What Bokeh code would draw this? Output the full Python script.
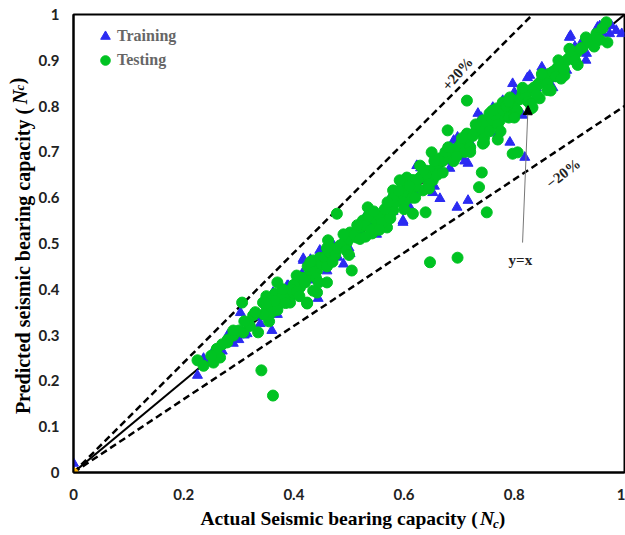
from bokeh.plotting import figure
from bokeh.models import (Label, Arrow, NormalHead, Legend, LegendItem,
                          FixedTicker, Range1d, LinearAxis)
from bokeh.embed import file_html
from bokeh.resources import INLINE

# ---------------- data ----------------
train_actual = [
    0.000, 0.225, 0.236, 0.254, 0.266, 0.290, 0.315, 0.339, 0.360, 0.362,
    0.390, 0.415, 0.417, 0.442, 0.417, 0.502, 0.569, 0.598, 0.388, 0.444,
    0.447, 0.551, 0.734, 0.697, 0.716, 0.792, 0.665, 0.652, 0.696, 0.716,
    0.623, 0.683, 0.819, 0.598, 0.900, 0.951, 0.976, 0.995, 0.973, 0.924,
    0.931, 0.877, 0.828, 0.797, 0.895, 0.761, 0.779, 0.902, 0.824, 0.303,
    0.388, 0.300, 0.320, 0.340, 0.375, 0.400, 0.430, 0.460, 0.480, 0.500,
    0.520, 0.540, 0.560, 0.580, 0.600, 0.620, 0.640, 0.660, 0.680, 0.700,
    0.720, 0.740, 0.760, 0.780, 0.800, 0.820, 0.840, 0.860, 0.880, 0.900,
    0.920, 0.940, 0.960, 0.250, 0.270, 0.245,
    0.470, 0.490, 0.530, 0.550, 0.575, 0.610, 0.630, 0.655, 0.690, 0.710,
    0.740, 0.770, 0.800, 0.815, 0.850, 0.870, 0.910, 0.930, 0.955, 0.985,
    0.430, 0.460, 0.350, 0.370, 0.280, 0.310,
]
train_pred = [
    0.020, 0.212, 0.249, 0.266, 0.273, 0.282, 0.303, 0.325, 0.310, 0.393,
    0.408, 0.434, 0.463, 0.452, 0.467, 0.478, 0.587, 0.550, 0.408, 0.380,
    0.485, 0.565, 0.784, 0.732, 0.675, 0.721, 0.598, 0.611, 0.579, 0.594,
    0.670, 0.664, 0.688, 0.546, 0.950, 0.972, 0.976, 0.958, 0.958, 0.943,
    0.915, 0.860, 0.867, 0.849, 0.878, 0.797, 0.812, 0.954, 0.862, 0.349,
    0.391, 0.290, 0.330, 0.340, 0.370, 0.385, 0.420, 0.460, 0.470, 0.490,
    0.520, 0.540, 0.560, 0.570, 0.600, 0.610, 0.640, 0.670, 0.680, 0.690,
    0.720, 0.740, 0.760, 0.780, 0.795, 0.830, 0.840, 0.860, 0.870, 0.900,
    0.920, 0.935, 0.960, 0.250, 0.265, 0.240,
    0.500, 0.455, 0.560, 0.520, 0.600, 0.580, 0.665, 0.625, 0.725, 0.680,
    0.775, 0.740, 0.830, 0.780, 0.885, 0.840, 0.930, 0.900, 0.975, 0.965,
    0.465, 0.440, 0.375, 0.345, 0.300, 0.300,
]

test_actual = [
    0.225, 0.236, 0.254, 0.266, 0.279, 0.290, 0.306, 0.308, 0.317, 0.326,
    0.335, 0.344, 0.351, 0.357, 0.366, 0.370, 0.370, 0.393, 0.406, 0.411,
    0.424, 0.435, 0.442, 0.341, 0.362,
    0.478, 0.462, 0.471, 0.484, 0.496, 0.502, 0.505, 0.514, 0.525, 0.534,
    0.542, 0.551, 0.562, 0.569, 0.580, 0.592, 0.605, 0.611, 0.616, 0.435,
    0.447, 0.442, 0.424, 0.411, 0.399, 0.460, 0.435, 0.424, 0.393,
    0.714, 0.679, 0.629, 0.650, 0.665, 0.683, 0.701, 0.714, 0.732, 0.743,
    0.755, 0.768, 0.779, 0.792, 0.743, 0.770, 0.605, 0.592, 0.616, 0.641,
    0.580, 0.634, 0.652, 0.741, 0.736, 0.750, 0.639, 0.616, 0.697, 0.647,
    0.797, 0.806, 0.833, 0.866,
    0.967, 0.969, 0.949, 0.937, 0.924, 0.913, 0.900, 0.888, 0.877, 0.864,
    0.851, 0.841, 0.828, 0.815, 0.804, 0.864, 0.846, 0.891, 0.831, 0.792,
    0.774, 0.755,
    0.380, 0.400, 0.415, 0.430, 0.450, 0.455, 0.465, 0.475, 0.490, 0.500,
    0.510, 0.520, 0.530, 0.545, 0.555, 0.565, 0.575, 0.585, 0.595, 0.600,
    0.620, 0.630, 0.640, 0.655, 0.660, 0.670, 0.680, 0.690, 0.700, 0.705,
    0.715, 0.725, 0.730, 0.740, 0.750, 0.760, 0.765, 0.780, 0.785, 0.800,
    0.810, 0.820, 0.835, 0.845, 0.855, 0.870, 0.880, 0.895, 0.905, 0.920,
    0.935, 0.950, 0.360, 0.355, 0.345, 0.370, 0.365, 0.350, 0.320, 0.300,
    0.280, 0.260, 0.395, 0.405, 0.420, 0.440, 0.425, 0.460, 0.480, 0.495,
    0.520, 0.540, 0.535, 0.560, 0.580, 0.600, 0.615, 0.625, 0.645, 0.660,
    0.675, 0.690, 0.710, 0.720, 0.745, 0.755, 0.770, 0.790, 0.805, 0.825,
    0.840, 0.860, 0.875, 0.890, 0.910,
    0.460, 0.470, 0.490, 0.500, 0.515, 0.530, 0.545, 0.555, 0.570, 0.575,
    0.590, 0.600, 0.610, 0.620, 0.635, 0.645, 0.655, 0.670, 0.680, 0.695,
    0.705, 0.720, 0.730, 0.745, 0.760, 0.775, 0.790, 0.800, 0.815, 0.830,
    0.850, 0.860, 0.880, 0.885, 0.900, 0.915, 0.930, 0.945, 0.960, 0.955,
    0.380, 0.385, 0.405, 0.410, 0.430, 0.445, 0.350, 0.330, 0.310, 0.290,
    0.270, 0.250,
]
test_pred = [
    0.245, 0.233, 0.240, 0.251, 0.284, 0.299, 0.371, 0.306, 0.328, 0.343,
    0.306, 0.371, 0.360, 0.376, 0.391, 0.365, 0.415, 0.391, 0.402, 0.413,
    0.369, 0.434, 0.393, 0.223, 0.168,
    0.565, 0.507, 0.489, 0.496, 0.502, 0.524, 0.441, 0.513, 0.550, 0.579,
    0.522, 0.544, 0.557, 0.535, 0.572, 0.600, 0.631, 0.609, 0.638, 0.463,
    0.469, 0.441, 0.426, 0.404, 0.391, 0.415, 0.397, 0.371, 0.371,
    0.812, 0.747, 0.670, 0.699, 0.686, 0.699, 0.714, 0.740, 0.753, 0.769,
    0.784, 0.795, 0.808, 0.819, 0.718, 0.727, 0.644, 0.638, 0.638, 0.659,
    0.616, 0.616, 0.638, 0.655, 0.623, 0.568, 0.568, 0.565, 0.469, 0.459,
    0.696, 0.699, 0.797, 0.834,
    0.983, 0.939, 0.958, 0.943, 0.928, 0.917, 0.906, 0.893, 0.882, 0.871,
    0.862, 0.845, 0.834, 0.828, 0.812, 0.838, 0.817, 0.867, 0.795, 0.784,
    0.769, 0.753,
    0.385, 0.410, 0.425, 0.440, 0.455, 0.470, 0.480, 0.475, 0.500, 0.510,
    0.520, 0.535, 0.540, 0.555, 0.560, 0.575, 0.585, 0.590, 0.610, 0.615,
    0.625, 0.645, 0.650, 0.665, 0.675, 0.680, 0.690, 0.705, 0.700, 0.720,
    0.725, 0.735, 0.745, 0.750, 0.765, 0.770, 0.780, 0.790, 0.800, 0.800,
    0.815, 0.820, 0.840, 0.850, 0.860, 0.875, 0.885, 0.900, 0.910, 0.925,
    0.940, 0.950, 0.350, 0.330, 0.345, 0.355, 0.375, 0.385, 0.320, 0.310,
    0.290, 0.270, 0.400, 0.395, 0.415, 0.425, 0.450, 0.450, 0.490, 0.485,
    0.510, 0.530, 0.560, 0.545, 0.600, 0.590, 0.600, 0.640, 0.630, 0.650,
    0.700, 0.680, 0.700, 0.710, 0.730, 0.745, 0.760, 0.775, 0.790, 0.810,
    0.825, 0.850, 0.865, 0.880, 0.900,
    0.490, 0.460, 0.520, 0.475, 0.540, 0.515, 0.570, 0.530, 0.590, 0.555,
    0.615, 0.575, 0.625, 0.600, 0.660, 0.620, 0.680, 0.655, 0.710, 0.690,
    0.730, 0.700, 0.760, 0.720, 0.790, 0.745, 0.810, 0.775, 0.840, 0.805,
    0.870, 0.835, 0.900, 0.860, 0.925, 0.890, 0.950, 0.930, 0.970, 0.945,
    0.400, 0.370, 0.430, 0.385, 0.460, 0.415, 0.370, 0.350, 0.330, 0.310,
    0.280, 0.255,
]

origin_actual = [0.0]
origin_pred = [0.0]

ref_x = [0.0, 1.0]
upper_factor = 1.2   # +20 %
lower_factor = 0.8   # -20 %

tick_values = [0.0, 0.1, 0.2, 0.3, 0.4, 0.5, 0.6, 0.7, 0.8, 0.9, 1.0]
y_tick_labels = ["0", "0.1", "0.2", "0.3", "0.4", "0.5", "0.6", "0.7", "0.8", "0.9", "1"]
x_tick_values = [0.0, 0.2, 0.4, 0.6, 0.8, 1.0]
x_tick_labels = ["0", "0.2", "0.4", "0.6", "0.8", "1"]

x_title = ["Actual Seismic bearing capacity (", "N", "c", ")"]
y_title = ["Predicted seismic bearing capacity (", "N", "c", ")"]

# ---------------- figure ----------------
p = figure(width=625, height=535, output_backend="svg", toolbar_location=None,
           x_range=Range1d(0, 1), y_range=Range1d(0, 1),
           min_border_left=73, min_border_right=1, min_border_top=14,
           min_border_bottom=63)
p.background_fill_color = "white"
p.border_fill_color = "white"
p.outline_line_color = "black"
p.outline_line_width = 2
p.xgrid.visible = False
p.ygrid.visible = False

for ax in (p.xaxis[0], p.yaxis[0]):
    ax.axis_line_color = "black"
    ax.axis_line_width = 2
    ax.major_tick_line_color = None
    ax.minor_tick_line_color = None
    ax.major_tick_out = 0
    ax.major_tick_in = 0
    ax.minor_tick_out = 0
    ax.minor_tick_in = 0
    ax.major_label_text_font = "Lato"
    ax.major_label_text_font_style = "bold"
    ax.major_label_text_font_size = "15px"
    ax.major_label_text_color = "#222222"

p.xaxis.ticker = FixedTicker(ticks=x_tick_values)
p.yaxis.ticker = FixedTicker(ticks=tick_values)
p.xaxis.major_label_overrides = {v: s for v, s in zip(x_tick_values, x_tick_labels)}
p.yaxis.major_label_overrides = {v: s for v, s in zip(tick_values, y_tick_labels)}
p.xaxis.major_label_standoff = 16
p.yaxis.major_label_standoff = 14

serif = "Liberation Serif"


def title_axis(side, pos, text, style, size, standoff):
    """An axis without line/ticks whose single tick label is one title part."""
    ax = LinearAxis(ticker=FixedTicker(ticks=[pos]),
                    major_label_overrides={pos: text},
                    axis_line_color=None, major_tick_line_color=None,
                    minor_tick_line_color=None,
                    major_tick_out=0, major_tick_in=0,
                    minor_tick_out=0, minor_tick_in=0,
                    major_label_standoff=standoff,
                    major_label_text_font=serif,
                    major_label_text_font_style=style,
                    major_label_text_font_size=size,
                    major_label_text_color="black")
    if side == "left":
        ax.major_label_orientation = "parallel"
    p.add_layout(ax, side)
    return ax


# x title pieces (upright text, italic N, upright ")", italic subscript c)
title_axis("below", 0.4819, x_title[0], "bold", "19.5px", 5)
title_axis("below", 0.7505, x_title[1], "bold italic", "19.5px", -24)
title_axis("below", 0.7777, x_title[3], "bold", "19.5px", -24)
title_axis("below", 0.7668, x_title[2], "bold italic", "13px", -16)

# y title pieces
title_axis("left", 0.4618, y_title[0], "bold", "20px", 1)
title_axis("left", 0.8199, y_title[1], "bold italic", "20px", -22)
title_axis("left", 0.8548, y_title[3], "bold", "20px", -22)
title_axis("left", 0.8406, y_title[2], "bold italic", "13px", -24)

# reference lines
p.line(ref_x, [v * upper_factor for v in ref_x], line_color="black",
       line_width=2.5, line_dash="7 4")
p.line(ref_x, [v * lower_factor for v in ref_x], line_color="black",
       line_width=2.5, line_dash="7 4")
p.line(ref_x, ref_x, line_color="black", line_width=2)

r_train = p.scatter(train_actual, train_pred, marker="triangle", size=10,
                    fill_color="#2b2bf2", line_color="#2b2bf2")
r_test = p.scatter(test_actual, test_pred, marker="circle", size=11,
                   fill_color="#00c322", line_color="#00c322")
p.scatter(origin_actual, origin_pred, marker="circle", size=9,
          fill_color="#ffb400", line_color="#ffb400")

legend = Legend(items=[LegendItem(label="Training", renderers=[r_train]),
                       LegendItem(label="Testing", renderers=[r_test])],
                location=(20, 400), padding=0, margin=0, spacing=0,
                glyph_width=24, glyph_height=24, label_height=24,
                label_standoff=0, border_line_color=None,
                background_fill_alpha=0,
                label_text_font=serif, label_text_font_style="bold",
                label_text_font_size="16px", label_text_color="#666666")
p.add_layout(legend)

# annotations
p.add_layout(Label(x=0.697, y=0.871, text="+20%", angle=0.855,
                   text_align="center", text_baseline="middle",
                   text_font=serif, text_font_style="bold",
                   text_font_size="15px", text_color="#222222"))
p.add_layout(Label(x=0.889, y=0.653, text="\u221220%", angle=0.656,
                   text_align="center", text_baseline="middle",
                   text_font=serif, text_font_style="bold",
                   text_font_size="15px", text_color="#222222"))
p.add_layout(Label(x=0.811, y=0.463, text="y=x", text_align="center",
                   text_baseline="middle", text_font=serif,
                   text_font_style="bold", text_font_size="15px",
                   text_color="#222222"))
p.add_layout(Arrow(x_start=0.815, y_start=0.502, x_end=0.825, y_end=0.801,
                   line_color="#777777", line_width=1,
                   end=NormalHead(size=9, fill_color="black",
                                  line_color="black")))

open("out.html", "w").write(file_html(p, INLINE))
